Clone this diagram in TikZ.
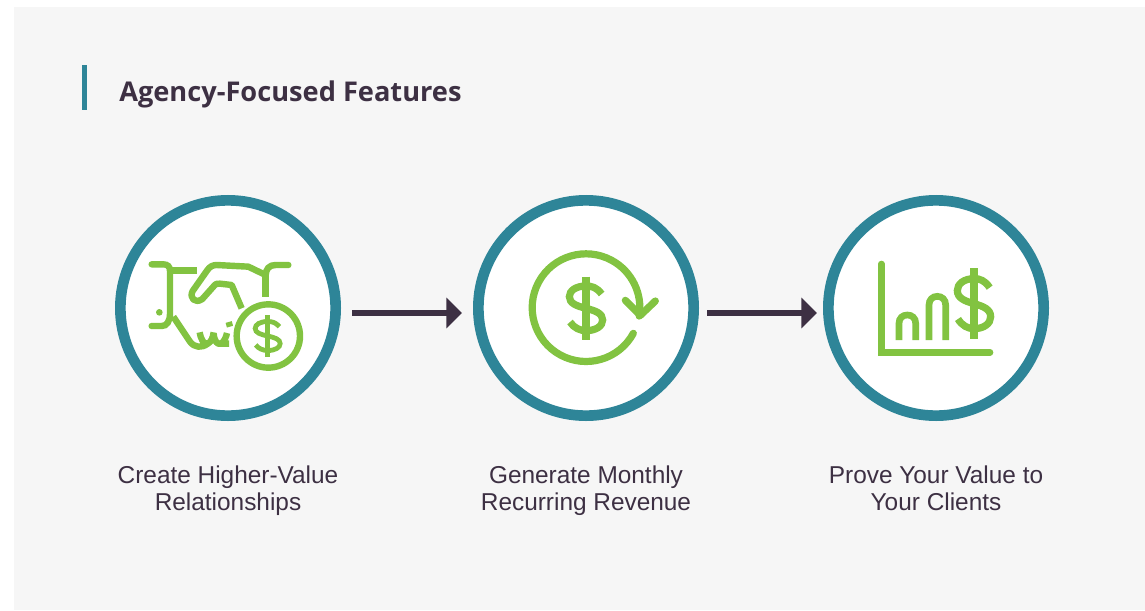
\documentclass[tikz,border=0pt]{standalone}
\usepackage{fontspec}
\setmainfont{Liberation Sans}
\newfontfamily\titlefont{Open Sans}
\usetikzlibrary{arrows.meta}
\definecolor{panel}{HTML}{F6F6F6}
\definecolor{ring}{HTML}{2E8598}
\definecolor{leaf}{HTML}{82C341}
\definecolor{ink}{HTML}{3D3043}
\tikzset{
  ringnode/.style={circle,draw=ring,fill=white,line width=8pt,minimum size=161.5pt,inner sep=0pt},
  flow/.style={draw=ink,line width=4pt,-{Triangle[length=11.8pt,width=22.5pt]}},
  caption/.style={align=center,text=ink,inner sep=0pt,font=\fontsize{18.3}{20.25}\selectfont},
  icon/.style={draw=leaf,fill=none,line width=#1},
  icon/.default=4.8pt,
  iconzoom/.style={x=.25pt,y=-.25pt}
}
\newcommand{\moneysign}[5]{%
  \begin{scope}[shift={(#1,#2)},xscale=#3,yscale=#4]
    \draw[icon=#5] (47,-43) .. controls (32,-63) and (17,-67) .. (0,-67)
      .. controls (-30,-67) and (-50,-53) .. (-50,-35)
      .. controls (-50,-15) and (-28,-7) .. (0,0)
      .. controls (28,7) and (50,15) .. (50,35)
      .. controls (50,53) and (30,67) .. (0,67)
      .. controls (-18,67) and (-36,59) .. (-48,41);
    \draw[icon=#5] (0,-95) -- (0,95);
  \end{scope}}
\begin{document}
\begin{tikzpicture}[x=.75pt,y=-.75pt]
\useasboundingbox (0,0) rectangle (1145,610);
\fill[white] (0,0) rectangle (1145,610);
\fill[panel] (14,7) rectangle (1145,610);
\fill[ring] (82,65) rectangle (87,110);
\node[anchor=base west,inner sep=0pt,text=ink,font=\titlefont\bfseries\fontsize{20.4}{24}\selectfont] (title) at (119,101) {Agency-Focused Features};

\node[ringnode] (c1) at (228,308) {};
\node[ringnode] (c2) at (586,308) {};
\node[ringnode] (c3) at (936,308) {};

\coordinate (a1s) at (352,313);
\coordinate (a1e) at (462,313);
\coordinate (a2s) at (707,313);
\coordinate (a2e) at (817,313);
\draw[flow] (a1s) -- (a1e);
\draw[flow] (a2s) -- (a2e);

\node[caption] (t1) at (228,491.5) {\strut Create Higher-Value\\Relationships\strut};
\node[caption] (t2) at (586,491.5) {\strut Generate Monthly\\Recurring Revenue\strut};
\node[caption] (t3) at (936,491.5) {\strut Prove Your Value to\\Your Clients\strut};

% handshake icon
\begin{scope}[shift={(145,255)},iconzoom]
  \draw[icon,line cap=round] (20,28) -- (55,28) .. controls (68,28) and (75,35) .. (75,48) -- (75,175) .. controls (75,200) and (65,213) .. (50,213) -- (20,213);
  \draw[icon] (75,47) -- (155,47);
  \fill[leaf] (43,172) circle (10);
  \draw[icon,line cap=round] (430,30) -- (392,30) .. controls (372,30) and (363,42) .. (362,60);
  \draw[icon] (362,60) -- (362,125);
  \draw[icon,line join=round] (362,60) -- (310,35) -- (215,30) .. controls (203,30) and (195,35) .. (188,44) -- (143,108) .. controls (132,128) and (150,148) .. (172,132) -- (205,95) .. controls (212,86) and (216,85) .. (225,86) -- (260,90) -- (290,160);
  \draw[icon,line join=round] (85,185) -- (135,260) .. controls (148,278) and (170,280) .. (188,266);
  \draw[icon,line join=round] (164,232) .. controls (168,254) and (176,268) .. (188,266) .. controls (198,262) and (204,248) .. (206,232);
  \draw[icon,line join=round] (206,236) .. controls (208,258) and (216,270) .. (228,266) -- (252,266);
  \draw[icon] (228,266) .. controls (238,260) and (244,244) .. (246,234);
  \draw[icon] (251,201) -- (255,215);
  \fill[white] (370,243) circle (110);
  \draw[icon] (370,243) circle (95);
  \moneysign{368}{243}{.75}{.65}{3.6pt}
\end{scope}

% recurring revenue icon
\begin{scope}[shift={(470,190)},iconzoom]
  \draw[icon=5.4pt,line cap=round] (490,430) arc[start angle=28.5,end angle=369,radius=161.5];
  \draw[icon=5.4pt,line cap=round,line join=round] (466,331) -- (511,376) -- (556,333);
  \moneysign{348}{355}{1}{1}{5.4pt}
\end{scope}

% chart icon
\begin{scope}[shift={(820,190)},iconzoom]
  \draw[icon=5pt,line cap=round,line join=miter] (184,222) -- (184,487) -- (510,487);
  \draw[icon=5pt] (237,450) -- (237,400) .. controls (237,384) and (248,375) .. (262,375) .. controls (276,375) and (287,384) .. (287,400) -- (287,450);
  \draw[icon=5pt] (327,450) -- (327,345) .. controls (327,329) and (338,319) .. (352,319) .. controls (366,319) and (377,329) .. (377,345) -- (377,450);
  \moneysign{462}{341}{1}{1.12}{5.4pt}
\end{scope}
\end{tikzpicture}
\end{document}
